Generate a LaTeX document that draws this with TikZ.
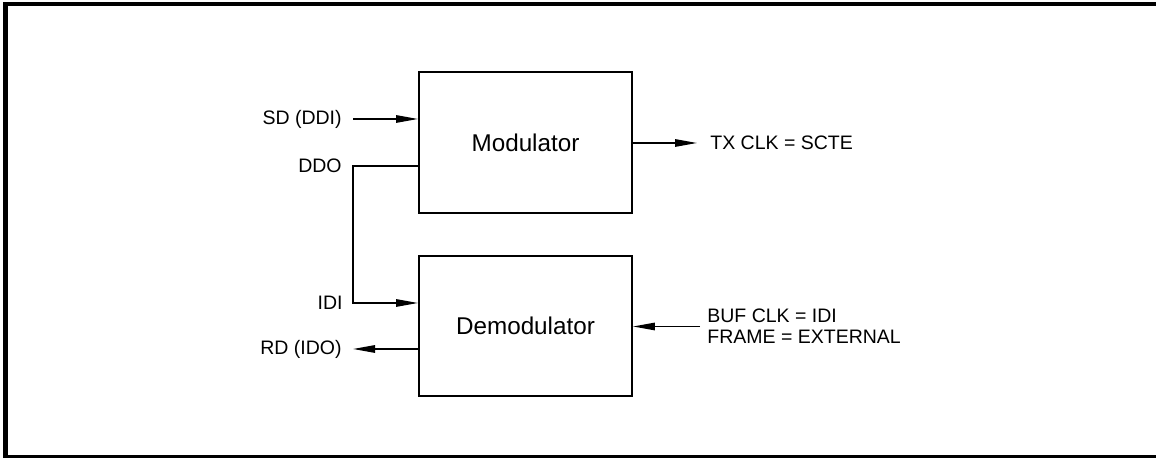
\documentclass[tikz,border=0pt]{standalone}
\usepackage{fontspec}
\setmainfont{Liberation Sans}
\usepackage{tikz}
\usetikzlibrary{arrows.meta, positioning, calc}
\tikzset{
  unitbox/.style={draw, line width=1.1pt, minimum width=4.26cm, minimum height=2.81cm,
                  font=\fontsize{13.8}{15}\selectfont},
  siglabel/.style={inner sep=0pt, font=\fontsize{11.1}{12}\selectfont},
  sigline/.style={line width=0.8pt},
  sigarrow/.style={line width=0.8pt, -{Triangle[length=0.44cm, width=0.15cm]}}
}

\begin{document}
\begin{tikzpicture}
      \useasboundingbox (0,0) rectangle (23.12,9.16);
      % Outer frame (open to the right)
      \draw[line width=2.3pt] (23.4,9.08) -- (0.11,9.08) -- (0.11,0.02) -- (23.4,0.02);
      % Modulator and demodulator boxes
      \node[unitbox] (mod) at (10.51,6.31) {Modulator};
      \node[unitbox] (demod) at (10.51,2.64) {Demodulator};
      % Left side signals
      \node[siglabel, anchor=east] (sd) at (6.84,6.78) {SD (DDI)};
      \node[siglabel, anchor=east] (ddo) at (6.84,5.84) {DDO};
      \node[siglabel, anchor=east] (idi) at (6.86,3.10) {IDI};
      \node[siglabel, anchor=east] (rd) at (6.84,2.18) {RD (IDO)};
      \draw[sigarrow] ([xshift=0.22cm]sd.east) -- (sd.east -| mod.west);
      \draw[sigarrow] (mod.west |- ddo.east) -- ([xshift=0.22cm]ddo.east)
            |- (idi.east -| demod.west);
      \draw[sigarrow] (rd.east -| demod.west) -- ([xshift=0.22cm]rd.east);
      % Right side signals
      \node[siglabel, anchor=west] (txclk) at (14.2,6.30) {TX CLK = SCTE};
      \node[siglabel, anchor=west, align=left] (bufclk) at (14.14,2.63)
           {BUF CLK = IDI\\FRAME = EXTERNAL};
      \draw[sigarrow] (txclk.west -| mod.east) -- ([xshift=-0.26cm]txclk.west);
      \draw[sigarrow] ([xshift=-0.14cm]bufclk.west) -- (bufclk.west -| demod.east);
\end{tikzpicture}
\end{document}
